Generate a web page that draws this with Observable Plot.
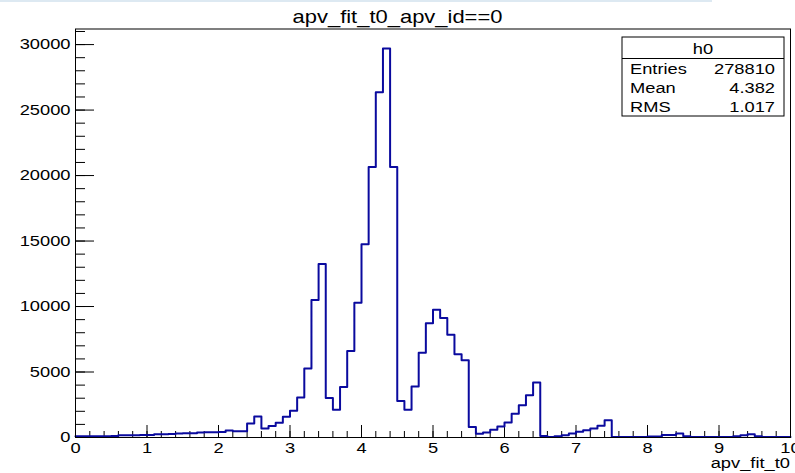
<!DOCTYPE html>
<html>
<head>
<meta charset="utf-8">
<script src="https://cdn.jsdelivr.net/npm/d3@7"></script>
<script src="https://cdn.jsdelivr.net/npm/@observablehq/plot@0.6"></script>
<style>
  html, body { margin: 0; padding: 0; background: #fff; }
  #wrap { position: relative; width: 795px; height: 473px; overflow: hidden; }
  #topbar { position: absolute; left: 0; top: 0; width: 712px; height: 2px; background: #dde9f2; }
</style>
</head>
<body>
<div id="wrap"><div id="topbar"></div></div>
<script>
// ---- data ----
const binStart = 0, binWidth = 0.1;
const counts = [
  // 0.0 - 0.9
  90, 95, 100, 100, 105, 110, 170, 175, 180, 185,
  // 1.0 - 1.9
  190, 240, 250, 260, 310, 320, 330, 390, 400, 410,
  // 2.0 - 2.9
  420, 540, 470, 480, 1070, 1600, 680, 870, 1130, 1580,
  // 3.0 - 3.9
  2040, 3060, 5270, 10490, 13240, 3010, 2110, 3850, 6600, 10280,
  // 4.0 - 4.9
  14760, 20660, 26370, 29700, 20650, 2780, 2110, 3890, 6480, 8730,
  // 5.0 - 5.9
  9760, 9130, 7840, 6350, 5900, 800, 280, 380, 590, 840,
  // 6.0 - 6.9
  1150, 1810, 2460, 3230, 4200, 120, 40, 100, 180, 300,
  // 7.0 - 7.9
  430, 560, 690, 890, 1320, 40, 40, 40, 40, 40,
  // 8.0 - 8.9
  80, 80, 200, 200, 300, 100, 40, 40, 40, 40,
  // 9.0 - 9.9
  40, 40, 100, 180, 250, 100, 40, 40, 40, 40
];
const xMajor = [0, 1, 2, 3, 4, 5, 6, 7, 8, 9, 10];
const xMinor = d3.range(0, 51).map(i => i / 5);
const yMajor = [0, 5000, 10000, 15000, 20000, 25000, 30000];
const yMinor = d3.range(0, 32).map(i => i * 1000);
const yMax = 31190;
const title = "apv_fit_t0_apv_id==0";
const xLabel = "apv_fit_t0";
const statsName = "h0";
const statsRows = [["Entries", "278810"], ["Mean", "4.382"], ["RMS", "1.017"]];

// step table
const steps = counts.map((c, i) => ({x: binStart + i * binWidth, y: c}));
steps.push({x: binStart + counts.length * binWidth, y: counts[counts.length - 1]});

// ---- layout ----
const W = 795, H = 473;
const mL = 75, mR = 5, mT = 28.5, mB = 36;
const innerW = W - mL - mR, innerH = H - mT - mB;
const font = "'Liberation Sans', Arial, Helvetica, sans-serif";
const stretch = 1.22;

const svg = Plot.plot({
  width: W, height: H,
  marginLeft: mL, marginRight: mR, marginTop: mT, marginBottom: mB,
  x: {domain: [0, 10]},
  y: {domain: [0, yMax]},
  style: {fontFamily: font, fontSize: "15px", color: "#000", background: "#fff", overflow: "visible"},
  marks: [
    Plot.tickX(xMinor, {x: d => d, insetTop: innerH - 6, stroke: "#000"}),
    Plot.tickX(xMajor, {x: d => d, insetTop: innerH - 12, stroke: "#000"}),
    Plot.tickY(yMinor, {y: d => d, insetRight: innerW - 10, stroke: "#000"}),
    Plot.tickY(yMajor, {y: d => d, insetRight: innerW - 19, stroke: "#000"}),
    Plot.axisX({ticks: xMajor, tickSize: 0, tickPadding: 5, tickFormat: d => String(d), label: null}),
    Plot.axisY({ticks: yMajor, tickSize: 0, tickPadding: 5, tickFormat: "d", label: null}),
    Plot.line(steps, {x: "x", y: "y", curve: "step-after", stroke: "#0a0a9e", strokeWidth: 2}),
    Plot.frame({stroke: "#000"})
  ]
});

// horizontally stretch Plot's own tick labels (the reference font is wide)
d3.select(svg).selectAll("text").each(function () {
  const t = this.getAttribute("transform") || "";
  this.setAttribute("transform", `${t} scale(${stretch},1)`);
});

const s = d3.select(svg);
function addText(str, x, y, anchor, size) {
  s.append("text")
    .attr("transform", `translate(${x},${y}) scale(${stretch},1)`)
    .attr("text-anchor", anchor)
    .attr("font-family", font)
    .attr("font-size", size)
    .attr("fill", "#000")
    .text(str);
}
// title
addText(title, W / 2, 23.3, "middle", 18);
// x axis title
addText(xLabel, W - mR, 468, "end", 15);
// stats box
const bx = 622, by = 37, bw = 162, bh = 79;
s.append("rect").attr("x", bx).attr("y", by).attr("width", bw).attr("height", bh)
  .attr("fill", "#fff").attr("stroke", "#000").attr("stroke-width", 1);
s.append("line").attr("x1", bx).attr("x2", bx + bw).attr("y1", 58.5).attr("y2", 58.5)
  .attr("stroke", "#000").attr("stroke-width", 1);
addText(statsName, bx + bw / 2, 53.5, "middle", 15);
const rowY = [73.5, 93, 111.5];
statsRows.forEach(([k, v], i) => {
  addText(k, 630, rowY[i], "start", 15);
  addText(v, 775, rowY[i], "end", 15);
});

document.getElementById("wrap").appendChild(svg);
svg.style.position = "absolute";
svg.style.left = "0px";
svg.style.top = "0px";
document.getElementById("wrap").appendChild(document.getElementById("topbar"));
</script>
</body>
</html>
